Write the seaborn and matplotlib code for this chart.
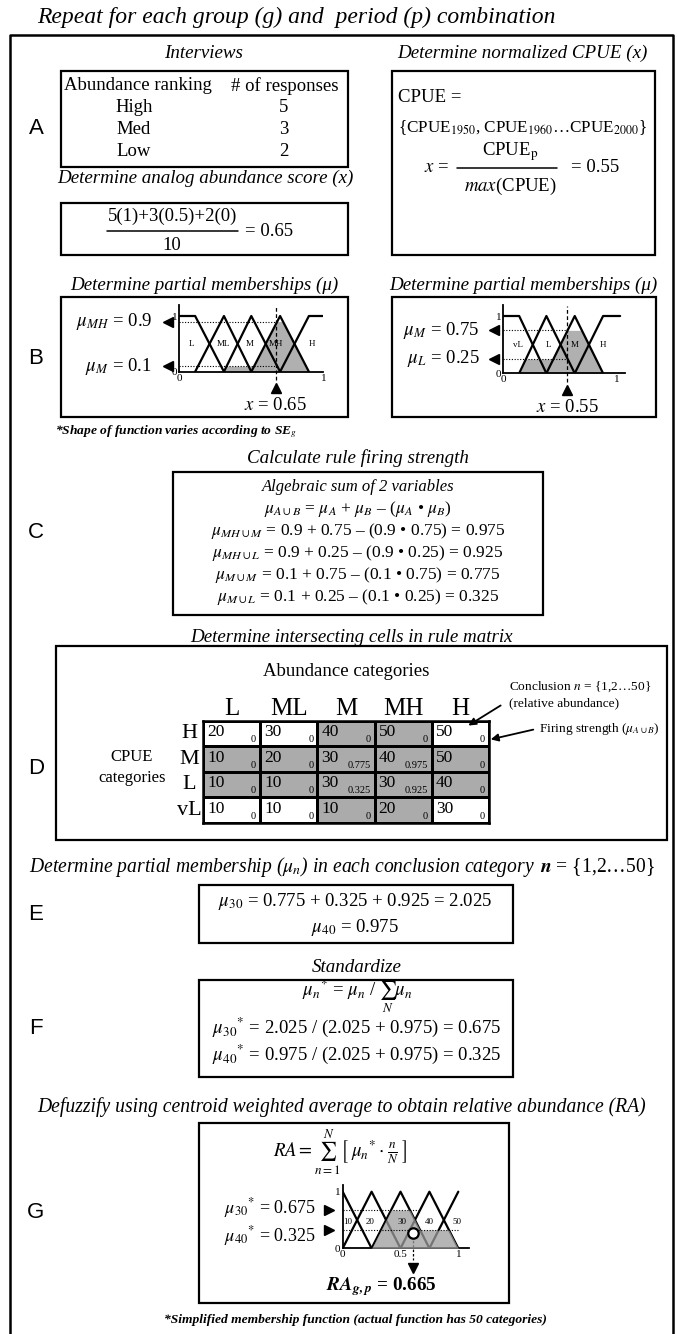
import numpy as np
import pandas as pd
import matplotlib
matplotlib.use("Agg")
import matplotlib.pyplot as plt
import matplotlib.patches as patches
from matplotlib.colors import ListedColormap
import seaborn as sns

sns.set_theme(style="white")
plt.rcParams['font.family'] = ['Liberation Serif', 'DejaVu Serif']
plt.rcParams['mathtext.fontset'] = 'stix'
plt.rcParams.update({'text.color': 'black', 'xtick.color': 'black', 'ytick.color': 'black',
                     'axes.labelcolor': 'black'})

W, H = 678, 1334

# ---------------- data ----------------
# A: interviews
ranks = ["High", "Med", "Low"]
responses = [5, 3, 2]
rank_weights = [1, 0.5, 0]
analog_score = 0.65
cpue_years = ["1950", "1960", "2000"]
cpue_score = 0.55

left_cats = ["L", "ML", "M", "MH", "H"]
left_breaks = [0.0, 0.11, 0.31, 0.50, 0.70, 0.90, 1.0]
left_label_x = [0.085, 0.305, 0.49, 0.67, 0.92]
left_mark = 0.67
left_mu = {"MH": 0.9, "M": 0.1}

right_cats = ["vL", "L", "M", "H"]
right_breaks = [0.0, 0.14, 0.38, 0.63, 0.88, 1.03]
right_label_x = [0.13, 0.40, 0.63, 0.88]
right_mark = 0.565
right_mu = {"M": 0.75, "L": 0.25}

# D: rule matrix
abund_cats = ["L", "ML", "M", "MH", "H"]
cpue_cats = ["H", "M", "L", "vL"]
conclusion = [[20, 30, 40, 50, 50],
              [10, 20, 30, 40, 50],
              [10, 10, 30, 30, 40],
              [10, 10, 10, 20, 30]]
firing = [["0", "0", "0", "0", "0"],
          ["0", "0", "0.775", "0.975", "0"],
          ["0", "0", "0.325", "0.925", "0"],
          ["0", "0", "0", "0", "0"]]

# G: output sets
out_cats = ["10", "20", "30", "40", "50"]
out_breaks = [0.0, 0.0, 0.25, 0.5, 0.75, 1.0, 1.0]
out_label_x = [0.04, 0.24, 0.51, 0.75, 0.99]
out_mu = {"30": 0.675, "40": 0.325}
ra_mark = (0.61, 0.265)

GRAY = '#b0b0b0'

fig = plt.figure(figsize=(W / 100, H / 100), dpi=100)
ax0 = fig.add_axes([0, 0, 1, 1])
ax0.set_xlim(0, W)
ax0.set_ylim(H, 0)
ax0.axis('off')
ax0.set_zorder(5)


def box(x0, y0, x1, y1, lw=1.6):
    ax0.add_patch(patches.Rectangle((x0, y0), x1 - x0, y1 - y0, fill=False, lw=lw, ec='black'))


def txt(x, y, s, size=13.5, ha='center', **kw):
    return ax0.text(x, y, s, fontsize=size, ha=ha, va='center', **kw)


def head(x, y, s, size=13.7):
    return txt(x, y, s, size=size, style='italic')


def letter(y, s):
    txt(36, y, s, size=16, family='Liberation Sans')


# title and outer frame
txt(37, 17, "Repeat for each group (g) and  period (p) combination", size=17, ha='left', style='italic')
ax0.plot([10, 10, 673, 673], [H, 35, 35, H], color='black', lw=1.8)

# ---------------- A ----------------
letter(128, "A")
head(204, 53, "Interviews")
box(61, 71, 348, 167)
txt(138, 86, "Abundance ranking")
txt(285, 86, "# of responses")
for i, (r, n) in enumerate(zip(ranks, responses)):
    yy = 108 + i * 22
    txt(134, yy, r)
    txt(284, yy, str(n))

head(205, 178, "Determine analog abundance score (x)")
box(61, 203, 348, 255)
numer = "+".join(f"{n}({w:g})" for n, w in zip(responses, rank_weights))
txt(173, 216, numer)
ax0.plot([107, 238], [231, 231], color='black', lw=1.1)
txt(172, 246, str(sum(responses)))
txt(245, 231, f"= {analog_score}", ha='left')

head(522, 53, "Determine normalized CPUE (x)")
box(392, 71, 655, 255)
txt(398, 97, "CPUE =", ha='left')
txt(523, 128, "{CPUE$_{%s}$, CPUE$_{%s}$…CPUE$_{%s}$}" % tuple(cpue_years), size=12.3)
txt(424, 168, r"$x$ =", ha='left')
txt(510, 152, r"CPUE$_{\rm p}$")
ax0.plot([457, 557], [168, 168], color='black', lw=1.1)
txt(510, 186, r"$max$(CPUE)")
txt(571, 168, f"= {cpue_score}", ha='left')

# ---------------- B ----------------
letter(358, "B")
head(204, 285, "Determine partial memberships (μ)")
head(523, 285, "Determine partial memberships (μ)")
box(61, 297, 348, 417)
box(392, 297, 656, 417)


def membership_axes(px0, px1, py0, py1, xmax, ymax):
    sx, sy = px1 - px0, py0 - py1
    a = fig.add_axes([px0 / W, 1 - py0 / H, xmax * sx / W, ymax * sy / H])
    a.set_xlim(0, xmax)
    a.set_ylim(0, ymax)
    a.patch.set_alpha(0)
    sns.despine(ax=a)
    for s in ("left", "bottom"):
        a.spines[s].set_color("black")
        a.spines[s].set_linewidth(1.3)
    a.tick_params(length=0, pad=1.5, labelsize=8)
    return a


def draw_sets(a, breaks, cats, clips, label_x, label_y, fill_on_top=False):
    n = len(cats)
    grid = np.linspace(0, breaks[-1], 900)
    union = np.zeros_like(grid)
    for k, c in enumerate(cats):
        xs = breaks[k:k + 3]
        ys = [1 if k == 0 else 0, 1, 1 if k == n - 1 else 0]
        sns.lineplot(x=xs, y=ys, ax=a, color='black', lw=1.6, sort=False, estimator=None)
        if c in clips:
            union = np.maximum(union, np.minimum(np.interp(grid, xs, ys), clips[c]))
        a.text(label_x[k], label_y, c, fontsize=6.5, ha='center', va='center', zorder=6)
    if fill_on_top:
        a.fill_between(grid, 0, union, color='#9c9c9c', alpha=0.75, lw=0, zorder=3)
    else:
        a.fill_between(grid, 0, union, color=GRAY, lw=0, zorder=1)


def b_panel(px0, px1, py0, py1, xmax, breaks, cats, label_x, mu, mark, xval, lab_x):
    a = membership_axes(px0, px1, py0, py1, xmax, 1.2)
    draw_sets(a, breaks, cats, mu, label_x, 0.49)
    a.set_xticks([0, 1], ["0", "1"])
    a.set_yticks([0, 1], ["0", "1"])
    for c, lvl in mu.items():
        a.plot([0, mark], [lvl, lvl], color='black', lw=0.8, ls=(0, (1, 1.5)))
        a.plot(-0.08, lvl, marker='<', ms=7, color='black', clip_on=False)
        a.text(lab_x, lvl, r"$\mu_{%s}$ = %g" % (c, lvl), fontsize=13.5, ha='right', va='center')
    a.plot([mark, mark], [-0.15, 1.17], color='black', lw=0.9, ls=(0, (3, 2)), clip_on=False)
    a.plot(mark, -0.29, marker='^', ms=7, color='black', clip_on=False)
    a.text(mark, -0.6, r"$x$ = %g" % xval, fontsize=13.5, ha='center', va='center')
    return a


b_panel(179.3, 323.3, 371.7, 316.0, 1.0, left_breaks, left_cats, left_label_x, left_mu, left_mark,
        analog_score, -0.19)
b_panel(503.3, 616.7, 373.3, 316.0, 1.07, right_breaks, right_cats, right_label_x, right_mu, right_mark,
        cpue_score, -0.21)

txt(55, 432, "*Shape of function varies according to SE$_{g}$", size=9.7, ha='left',
    style='italic', weight='bold')

# ---------------- C ----------------
letter(533, "C")
head(358, 458, "Calculate rule firing strength")
box(173, 472, 543, 615)
txt(358, 487, "Algebraic sum of 2 variables", size=12, style='italic')
txt(358, 509, r"$\mu_{A\cup B}$ = $\mu_A$ + $\mu_B$ – ($\mu_A$ • $\mu_B$)", size=12.5)
yy = 531
for a_cat, a_mu in left_mu.items():
    for b_cat, b_mu in right_mu.items():
        res = a_mu + b_mu - a_mu * b_mu
        txt(358, yy, r"$\mu_{%s\cup %s}$ = %g + %g – (%g • %g) = %.3f" % (a_cat, b_cat, a_mu, b_mu, a_mu, b_mu, res),
            size=12.5)
        yy += 22

# ---------------- D ----------------
letter(769, "D")
head(351, 637, "Determine intersecting cells in rule matrix")
box(56, 646, 667, 840)
txt(346, 672, "Abundance categories", size=13.5)
txt(132, 757, "CPUE", size=12)
txt(132, 778, "categories", size=12)

shade = pd.DataFrame([[int(r in ("M", "L") or c in ("M", "MH")) for c in abund_cats] for r in cpue_cats],
                     index=cpue_cats, columns=abund_cats)
am = fig.add_axes([203 / W, 1 - 823 / H, (489 - 203) / W, (823 - 721) / H])
sns.heatmap(shade, ax=am, cmap=ListedColormap(['white', '#ababab']), vmin=0, vmax=1, cbar=False,
            linewidths=1.8, linecolor='black')
am.xaxis.tick_top()
am.set_xlabel('')
am.set_ylabel('')
am.tick_params(length=0)
am.tick_params(axis='x', pad=1, labelsize=18)
am.tick_params(axis='y', pad=10, labelsize=16)
for lb in am.get_yticklabels():
    lb.set_rotation(0)
    lb.set_ha('center')
for s in am.spines.values():
    s.set_visible(True)
    s.set_color('black')
    s.set_linewidth(1.8)
for i in range(len(cpue_cats)):
    for j in range(len(abund_cats)):
        am.text(j + 0.07, i + 0.44, str(conclusion[i][j]), fontsize=12.5, ha='left', va='center')
        am.text(j + 0.93, i + 0.74, firing[i][j], fontsize=7.5, ha='right', va='center')

txt(509, 687, r"Conclusion $n$ = {1,2…50}", size=9.6, ha='left')
txt(509, 703, "(relative abundance)", size=9.6, ha='left')
txt(539, 729, r"Firing strength ($\mu_{A\cup B}$)", size=9.6, ha='left')
ax0.annotate('', xy=(466, 727), xytext=(503, 704),
             arrowprops=dict(arrowstyle='-|>', color='black', lw=1.3, mutation_scale=11))
ax0.annotate('', xy=(488, 740), xytext=(536, 729),
             arrowprops=dict(arrowstyle='-|>', color='black', lw=1.3, mutation_scale=11))

# ---------------- E ----------------
letter(914, "E")
renderer = fig.canvas.get_renderer()
t1 = txt(0, 867, r"Determine partial membership ($\mu_n$) in each conclusion category", size=14.1,
         ha='left', style='italic')
t2 = txt(0, 867, r"$\mathbfit{n}$ = {1,2…50}", size=14.1, ha='left')
w1 = t1.get_window_extent(renderer).width
w2 = t2.get_window_extent(renderer).width
xs0 = 342 - (w1 + w2 + 5) / 2
t1.set_x(xs0)
t2.set_x(xs0 + w1 + 5)

mu30 = [0.775, 0.325, 0.925]
mu40 = 0.975
box(199, 885, 513, 943)
txt(355, 902, r"$\mu_{\mathit{30}}$ = " + " + ".join(f"{v:.3f}" for v in mu30) + f" = {sum(mu30):.3f}")
txt(355, 927, r"$\mu_{\mathit{40}}$ = %.3f" % mu40)

# ---------------- F ----------------
letter(1028, "F")
head(357, 967, "Standardize")
box(199, 980, 513, 1077)
tot = sum(mu30)
txt(357, 996, r"$\mu_n{}^{*}$ = $\mu_n$ / $\sum_{N}\mu_n$")
txt(357, 1027, r"$\mu_{\mathit{30}}{}^{*}$ = %.3f / (%.3f + %.3f) = %.3f" % (tot, tot, mu40, tot / (tot + mu40)))
txt(357, 1054, r"$\mu_{\mathit{40}}{}^{*}$ = %.3f / (%.3f + %.3f) = %.3f" % (mu40, tot, mu40, mu40 / (tot + mu40)))

# ---------------- G ----------------
letter(1212, "G")
head(342, 1107, "Defuzzify using centroid weighted average to obtain relative abundance (RA)", size=14.1)
box(199, 1123, 509, 1303)
txt(340, 1152, r"$RA = \sum_{n=1}^{N}\left[\;\mu_n{}^{*}\cdot\frac{n}{N}\;\right]$", size=13.5)

ag = membership_axes(342.7, 458.3, 1248.3, 1191.7, 1.09, 1.12)
draw_sets(ag, out_breaks, out_cats, out_mu, out_label_x, 0.47, fill_on_top=True)
ag.set_xticks([0, 0.5, 1], ["0", "0.5", "1"])
ag.set_yticks([0, 1], ["0", "1"])
ag.plot([0, 0.67], [out_mu["30"]] * 2, color='black', lw=0.8, ls=(0, (1, 1.5)), zorder=4)
ag.plot([0, 1.0], [out_mu["40"]] * 2, color='black', lw=0.8, ls=(0, (1, 1.5)), zorder=4)
label_shift = {"30": 0.04, "40": -0.1}
for c, lvl in out_mu.items():
    ag.plot(-0.12, lvl, marker='>', ms=7, color='black', clip_on=False)
    ag.text(-0.23, lvl + label_shift[c], r"$\mu_{\mathit{%s}}{}^{*}$ = %.3f" % (c, lvl), fontsize=13,
            ha='right', va='center')
ag.plot([ra_mark[0]] * 2, [ra_mark[1] - 0.05, -0.2], color='black', lw=0.9, ls=(0, (2, 1.5)), clip_on=False)
ag.plot(*ra_mark, marker='o', ms=7.5, mfc='white', mec='black', mew=1.6, zorder=7)
ag.plot(ra_mark[0], -0.34, marker='v', ms=7, color='black', clip_on=False)

ra_val = sum(out_mu[c] * int(c) / 50 for c in out_mu)
txt(381, 1287, r"$\mathbfit{RA}_{\mathbfit{g,p}}$ = %.3f" % ra_val, size=13.8, weight='bold')
txt(355, 1320, "*Simplified membership function (actual function has 50 categories)", size=9.7,
    style='italic', weight='bold')

fig.savefig("out.png", dpi=100)
